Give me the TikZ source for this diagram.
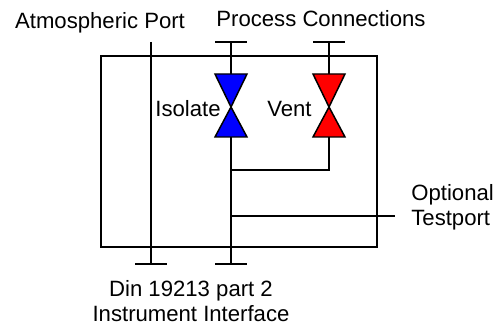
\documentclass[tikz,border=0pt]{standalone}
\usepackage{fontspec}
\setmainfont{Liberation Sans}
\usetikzlibrary{positioning}
\tikzset{
    wire/.style = {draw=black,line width=0.85pt},
    valveb/.style = {wire,fill=blue,line join=miter},
    valver/.style = {wire,fill=red,line join=miter},
    lbl/.style = {font=\fontsize{12.6pt}{14.4pt}\selectfont,align=center,inner sep=0pt},
}
\begin{document}
\begin{tikzpicture}[x=0.02cm,y=-0.02cm]
\useasboundingbox (0,0) rectangle (504,324);
\node[lbl,anchor=base] at (100,29) (atm) {Atmospheric Port};
\node[lbl,anchor=base] at (321,27) (proc) {Process Connections};
\node[lbl] at (191,301) (din) {Din 19213 part 2\\Instrument Interface};
\node[lbl,align=left,anchor=west] at (411,207) (test) {Optional\\Testport};
\node[lbl,anchor=base east] at (221,117) (iso) {Isolate};
\node[lbl,anchor=base east] at (312,117) (vent) {Vent};
%
\coordinate (boxa) at (101,56);
\coordinate (boxb) at (377,247);
\coordinate (atop) at (151,42);
\coordinate (abot) at (151,264);
\coordinate (itop) at (231,42);
\coordinate (ibot) at (231,264);
\coordinate (vtop) at (329,42);
\coordinate (ic) at (231,107);
\coordinate (vc) at (329,107);
\coordinate (vj) at (329,170);
\coordinate (ij) at (231,170);
\coordinate (tj) at (231,216);
\coordinate (tend) at (395,216);
%
\draw[wire] (boxa) rectangle (boxb);
\draw[wire] (atop) -- (abot);
\draw[wire] (itop) -- (ibot);
\draw[wire] (vtop) -- (vj) -- (ij);
\draw[wire] (tj) -- (tend);
%
\draw[wire] (abot) ++(-16,0) -- ++(32,0);
\draw[wire] (ibot) ++(-16,0) -- ++(32,0);
\draw[wire] (itop) ++(-16,0) -- ++(32,0);
\draw[wire] (vtop) ++(-16,0) -- ++(32,0);
%
\draw[valveb] (ic) -- ++(-16,-33) -- ++(32,0) -- (ic) -- ++(-16,30) -- ++(32,0) -- cycle;
\draw[valver] (vc) -- ++(-16,-33) -- ++(32,0) -- (vc) -- ++(-16,30) -- ++(32,0) -- cycle;
\end{tikzpicture}
\end{document}
